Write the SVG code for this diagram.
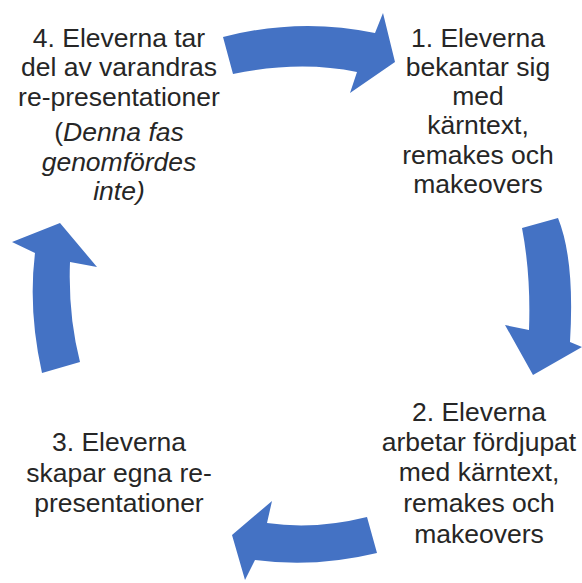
<svg xmlns="http://www.w3.org/2000/svg" width="582" height="583" viewBox="0 0 582 583">
<style>
.t{font-family:"Liberation Sans",Arial,sans-serif;font-size:26.5px;fill:#262626;text-anchor:middle}
.i{font-style:italic}
.arr{fill:#4472C4}
</style>
<rect width="582" height="583" fill="#ffffff"/>
<g id="connectors">
<path class="arr" d="M223,37 Q300,17 375,33 L383,13 L395,62 L350,93 L357,72 Q300,60 233,74 Z"/>
<path class="arr" d="M522,228 L558,218 Q575,260 570,342 L582,347 L533,375 L505,325 L529,330 Q531,275 522,228 Z"/>
<path class="arr" d="M367,517 Q315,530 267,523 L272,501 L232,535 L245,580 L255,560 Q315,568 377,553 Z"/>
<path class="arr" d="M42,373 Q28,310 35,253 L12,242 L60,223 L97,267 L70,262 Q68,315 80,362 Z"/>
</g>
<g id="step1">
<text class="t" x="478" y="47">1. Eleverna</text>
<text class="t" x="478" y="76">bekantar sig</text>
<text class="t" x="478" y="105">med</text>
<text class="t" x="478" y="134">kärntext,</text>
<text class="t" x="478" y="164">remakes och</text>
<text class="t" x="478" y="193">makeovers</text>
</g>
<g id="step2">
<text class="t" x="479" y="421">2. Eleverna</text>
<text class="t" x="479" y="451">arbetar fördjupat</text>
<text class="t" x="479" y="481">med kärntext,</text>
<text class="t" x="479" y="512">remakes och</text>
<text class="t" x="479" y="543">makeovers</text>
</g>
<g id="step3">
<text class="t" x="119" y="451">3. Eleverna</text>
<text class="t" x="119" y="482">skapar egna re-</text>
<text class="t" x="119" y="512">presentationer</text>
</g>
<g id="step4">
<text class="t" x="119" y="47">4. Eleverna tar</text>
<text class="t" x="119" y="76">del av varandras</text>
<text class="t" x="119" y="106">re-presentationer</text>
<text class="t" x="119" y="141">(<tspan class="i">Denna fas</tspan></text>
<text class="t i" x="119" y="171">genomfördes</text>
<text class="t i" x="119" y="200">inte)</text>
</g>
</svg>
